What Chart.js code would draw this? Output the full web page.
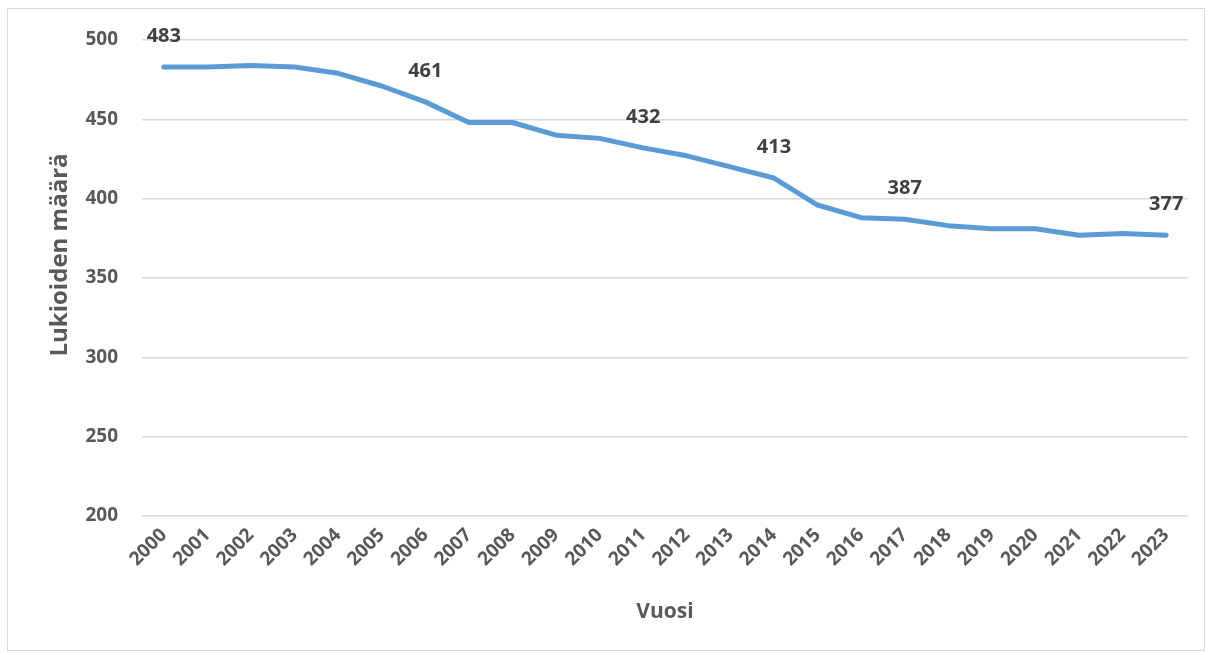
<!DOCTYPE html>
<html>
<head>
<meta charset="utf-8">
<script src="https://cdn.jsdelivr.net/npm/chart.js@4/dist/chart.umd.min.js"></script>
<style>
  html, body { margin: 0; padding: 0; background: #fff; }
  .frame { position: absolute; left: 7px; top: 8px; width: 1196px; height: 641px; border: 1px solid #d9d9d9; }
  #chart { position: absolute; left: 0; top: 0; }
</style>
</head>
<body>
<div class="frame"></div>
<canvas id="chart" width="1209" height="655"></canvas>
<script>
// Data
const years = ['2000', '2001', '2002', '2003', '2004', '2005', '2006', '2007', '2008', '2009', '2010', '2011',
               '2012', '2013', '2014', '2015', '2016', '2017', '2018', '2019', '2020', '2021', '2022', '2023'];
const lukiot = [483, 483, 484, 483, 479, 471, 461, 448, 448, 440, 438, 432,
                427, 420, 413, 396, 388, 387, 383, 381, 381, 377, 378, 377];
// years that get a value label above the line
const labelYears = ['2000', '2006', '2011', '2014', '2017', '2023'];
const yTicks = [200, 250, 300, 350, 400, 450, 500];

const FONT = "'Open Sans', sans-serif";
const GREY = '#595959';

// Value labels above selected points
const valueLabels = {
    id: 'valueLabels',
    afterDatasetsDraw(chart) {
        const ctx = chart.ctx;
        const meta = chart.getDatasetMeta(0);
        ctx.save();
        ctx.font = 'bold 20px ' + FONT;
        ctx.fillStyle = '#404040';
        ctx.textAlign = 'center';
        ctx.textBaseline = 'middle';
        meta.data.forEach((pt, i) => {
            if (labelYears.includes(years[i])) {
                ctx.fillText(String(lukiot[i]), pt.x, pt.y - 31);
            }
        });
        ctx.restore();
    }
};

// Y axis title (placed like in the original, a bit above the middle)
const yTitle = {
    id: 'yTitle',
    afterDraw(chart) {
        const ctx = chart.ctx;
        ctx.save();
        ctx.translate(60, 255);
        ctx.rotate(-Math.PI / 2);
        ctx.font = 'bold 24px ' + FONT;
        ctx.fillStyle = GREY;
        ctx.textAlign = 'center';
        ctx.textBaseline = 'middle';
        ctx.fillText('Lukioiden määrä', 0, 0);
        ctx.restore();
    }
};

const myChart = new Chart(document.getElementById('chart'), {
    type: 'line',
    data: {
        labels: years,
        datasets: [{
            label: 'Lukioiden määrä',
            data: lukiot,
            borderColor: '#5b9bd5',
            backgroundColor: '#5b9bd5',
            borderWidth: 5,
            borderJoinStyle: 'round',
            borderCapStyle: 'round',
            pointRadius: 0,
            tension: 0
        }]
    },
    options: {
        responsive: false,
        animation: false,
        layout: { padding: { top: 40, right: 21, left: 0, bottom: 0 } },
        plugins: {
            legend: { display: false },
            tooltip: { enabled: false }
        },
        scales: {
            x: {
                offset: true,
                grid: { display: false, drawTicks: false },
                border: { display: false },
                ticks: {
                    color: GREY,
                    font: { family: FONT, size: 19, weight: 'bold' },
                    minRotation: 45,
                    maxRotation: 45,
                    padding: 8,
                    autoSkip: false
                },
                title: {
                    display: true,
                    text: 'Vuosi',
                    color: GREY,
                    font: { family: FONT, size: 21, weight: 'bold' },
                    padding: { top: 0, bottom: 30 }
                },
                afterFit(scale) { scale.height = 139; }
            },
            y: {
                min: 200,
                max: 500,
                afterBuildTicks(scale) { scale.ticks = yTicks.map(v => ({ value: v })); },
                grid: { color: '#d9d9d9', lineWidth: 1.5, drawTicks: false },
                border: { display: false },
                ticks: {
                    color: GREY,
                    font: { family: FONT, size: 19, weight: 'bold' },
                    padding: 24
                },
                afterFit(scale) { scale.width = 142; }
            }
        }
    },
    plugins: [valueLabels, yTitle]
});
</script>
</body>
</html>
